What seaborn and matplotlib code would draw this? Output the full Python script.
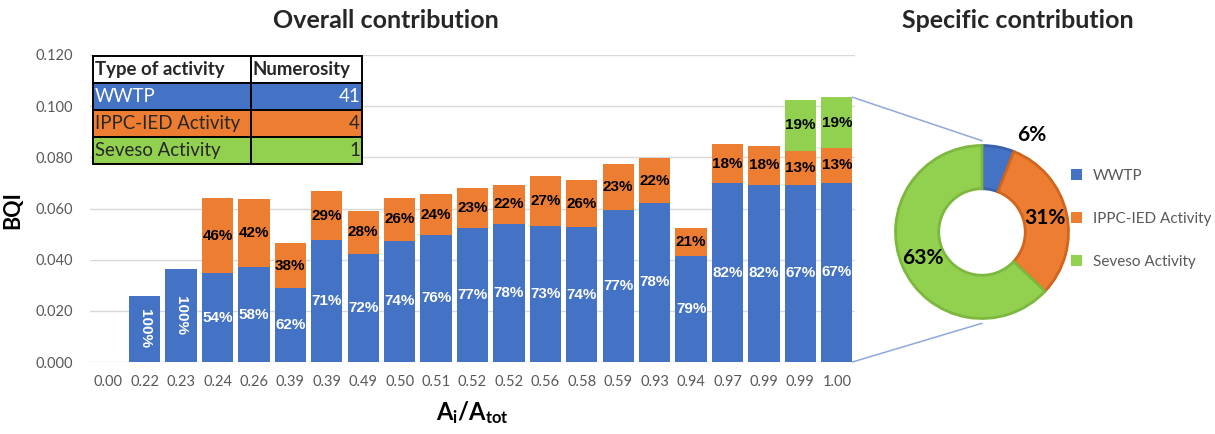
import numpy as np
import pandas as pd
import matplotlib
matplotlib.use("Agg")
import matplotlib.pyplot as plt
from matplotlib.patches import ConnectionPatch, Patch
import seaborn as sns

# ---- data -------------------------------------------------------------
ratio_labels = ["0.00", "0.22", "0.23", "0.24", "0.26", "0.39", "0.39", "0.49",
                "0.50", "0.51", "0.52", "0.52", "0.56", "0.58", "0.59", "0.93",
                "0.94", "0.97", "0.99", "0.99", "1.00"]
bqi_total = [0.0, 0.0258, 0.0362, 0.0641, 0.0637, 0.0464, 0.0669, 0.0589,
             0.0641, 0.0655, 0.0681, 0.0693, 0.0727, 0.0711, 0.0773, 0.0797,
             0.0525, 0.0852, 0.0845, 0.1023, 0.1035]
wwtp_pct = [0, 100, 100, 54, 58, 62, 71, 72, 74, 76, 77, 78, 73, 74, 77, 78,
            79, 82, 82, 67, 67]
ippc_pct = [0, 0, 0, 46, 42, 38, 29, 28, 26, 24, 23, 22, 27, 26, 23, 22,
            21, 18, 18, 13, 13]
seveso_pct = [0, 0, 0, 0, 0, 0, 0, 0, 0, 0, 0, 0, 0, 0, 0, 0,
              0, 0, 0, 19, 19]

activity_types = ["WWTP", "IPPC-IED Activity", "Seveso Activity"]
numerosity = [41, 4, 1]
specific_pct = [6, 31, 63]

# ---- style --------------------------------------------------------------
sns.set_style("white")
plt.rcParams["font.family"] = ["Lato", "DejaVu Sans"]
plt.rcParams["mathtext.fontset"] = "custom"
plt.rcParams["mathtext.rm"] = "Lato"
plt.rcParams["mathtext.it"] = "Lato:italic"
plt.rcParams["mathtext.bf"] = "Lato:bold"

BLUE, ORANGE, GREEN = "#4472C4", "#ED7D31", "#92D050"
EDGE = ["#3A62AA", "#D0661E", "#7DB83E"]
GREY = "#595959"
LABEL_FONT = ["Liberation Sans", "DejaVu Sans"]

W, H = 1215, 434
fig = plt.figure(figsize=(W / 100, H / 100), dpi=100)
fig.patch.set_facecolor("white")

# ---- stacked bars ---------------------------------------------------------
df = pd.DataFrame({
    "pos": np.arange(len(ratio_labels)),
    "total": bqi_total,
    "wwtp": wwtp_pct,
    "ippc": ippc_pct,
    "seveso": seveso_pct,
})
share_sum = (df["wwtp"] + df["ippc"] + df["seveso"]).replace(0, 1)
df["wwtp_v"] = df["total"] * df["wwtp"] / share_sum
df["ippc_v"] = df["total"] * df["ippc"] / share_sum
df["seveso_v"] = df["total"] * df["seveso"] / share_sum
df["lvl1"] = df["wwtp_v"]
df["lvl2"] = df["lvl1"] + df["ippc_v"]
df["lvl3"] = df["lvl2"] + df["seveso_v"]

ax = fig.add_axes([90 / W, 1 - 362 / H, 765 / W, 307 / H])
bar_w = 0.86
for col, colr in [("lvl3", GREEN), ("lvl2", ORANGE), ("lvl1", BLUE)]:
    sns.barplot(data=df, x="pos", y=col, color=colr, saturation=1,
                width=bar_w, errorbar=None, linewidth=0, ax=ax, zorder=2)

LBL = dict(ha="center", va="center", fontsize=11, fontweight="bold",
           family=LABEL_FONT, zorder=4)
for _, r in df.iterrows():
    i = int(r["pos"])
    if r["total"] <= 0:
        continue
    ax.text(i, float(r["wwtp_v"]) / 2, f"{int(r['wwtp'])}%", color="white",
            rotation=-90 if r["wwtp"] == 100 else 0, **LBL)
    if r["ippc"] > 0:
        ax.text(i, float(r["lvl1"] + r["ippc_v"] / 2), f"{int(r['ippc'])}%",
                color="black", **LBL)
    if r["seveso"] > 0:
        ax.text(i, float(r["lvl2"] + r["seveso_v"] / 2),
                f"{int(r['seveso'])}%", color="black", **LBL)

ax.set_xlim(-0.5, len(ratio_labels) - 0.5)
ax.set_ylim(0, 0.12)
ax.set_yticks(np.arange(0, 0.1201, 0.02))
ax.set_yticklabels([f"{v:.3f}" for v in np.arange(0, 0.1201, 0.02)])
ax.set_xticks(list(range(len(ratio_labels))))
ax.set_xticklabels(ratio_labels)
ax.tick_params(axis="both", length=0, labelsize=10.5, labelcolor=GREY)
ax.tick_params(axis="x", pad=9)
ax.tick_params(axis="y", pad=12)
ax.yaxis.grid(True, color="#D9D9D9", lw=1, zorder=0)
ax.xaxis.grid(False)
ax.set_axisbelow(True)
for s in ax.spines.values():
    s.set_visible(False)

ax.set_ylabel("BQI", fontsize=15.5, fontweight="bold", color="black")
ax.yaxis.set_label_coords(-67 / 765, 152 / 307)
ax.set_xlabel(r"$\mathbf{A_i/A_{tot}}$", fontsize=17, color="black")
ax.xaxis.set_label_coords(0.5, -37 / 307)

# ---- numerosity table ------------------------------------------------------
cell_text = [["Type of activity", "Numerosity"]] + \
    [[a, str(n)] for a, n in zip(activity_types, numerosity)]
cell_cols = [["white", "white"], [BLUE, BLUE], [ORANGE, ORANGE], [GREEN, GREEN]]
tbl = ax.table(cellText=cell_text, cellColours=cell_cols, cellLoc="left",
               colWidths=[158, 111],
               bbox=[2.7 / 765, (362 - 164) / 307, 269 / 765, 108.3 / 307])
tbl.auto_set_font_size(False)
tbl.set_zorder(6)
for (row, c), cell in tbl.get_celld().items():
    cell.set_edgecolor("black")
    cell.set_linewidth(1.4)
    cell.PAD = 0.015
    txt = cell.get_text()
    txt.set_fontsize(13.4)
    if row == 0:
        txt.set_fontweight("bold")
    if row > 0 and c == 1:
        cell._loc = "right"
        txt.set_ha("right")
    if row == 1:
        txt.set_color("white")

# ---- donut ---------------------------------------------------------------
cx, cy, rad = 982, 232, 86.5
pax = fig.add_axes([(cx - rad) / W, 1 - (cy + rad) / H, 2 * rad / W, 2 * rad / H])
wedges, _ = pax.pie(specific_pct, colors=[BLUE, ORANGE, GREEN], startangle=90,
                    counterclock=False, radius=1,
                    wedgeprops=dict(width=0.5, linewidth=2.0))
for w, ec in zip(wedges, EDGE):
    w.set_edgecolor(ec)
pax.set_xlim(-1, 1)
pax.set_ylim(-1, 1)
pax.set_aspect("equal")
pax.axis("off")

for k, w in enumerate(wedges):
    mid = np.deg2rad((w.theta1 + w.theta2) / 2)
    if specific_pct[k] < 10:
        px, py = 0.57, 1.12
    else:
        px, py = 0.75 * np.cos(mid), 0.75 * np.sin(mid)
    pax.text(px, py, f"{specific_pct[k]}%", ha="center", va="center",
             fontsize=15, fontweight="bold", color="black", clip_on=False,
             zorder=5)

fig.legend(handles=[Patch(facecolor=c, edgecolor="none", label=l)
                    for c, l in zip([BLUE, ORANGE, GREEN], activity_types)],
           loc="center left", bbox_to_anchor=(1071 / W, 1 - 219 / H),
           frameon=False, fontsize=11, labelcolor=GREY, labelspacing=1.9,
           handlelength=0.74, handleheight=0.74, handletextpad=0.7,
           borderpad=0, borderaxespad=0)

# lines linking the last bar to the donut
x_edge = float(len(ratio_labels) - 1 + bar_w / 2)
for ya, yb in [(float(df["lvl3"].iloc[-1]), 1.055), (0.0, -1.055)]:
    con = ConnectionPatch(xyA=(x_edge, ya), coordsA=ax.transData,
                          xyB=(0.0, yb), coordsB=pax.transData,
                          color="#8EA9DB", lw=1.1)
    fig.add_artist(con)

# ---- titles --------------------------------------------------------------
fig.text(386 / W, 1 - 21 / H, "Overall contribution", ha="center",
         va="center", fontsize=18, fontweight="bold")
fig.text(1018 / W, 1 - 21 / H, "Specific contribution", ha="center",
         va="center", fontsize=18, fontweight="bold")

fig.savefig("out.png", dpi=100, facecolor="white")
